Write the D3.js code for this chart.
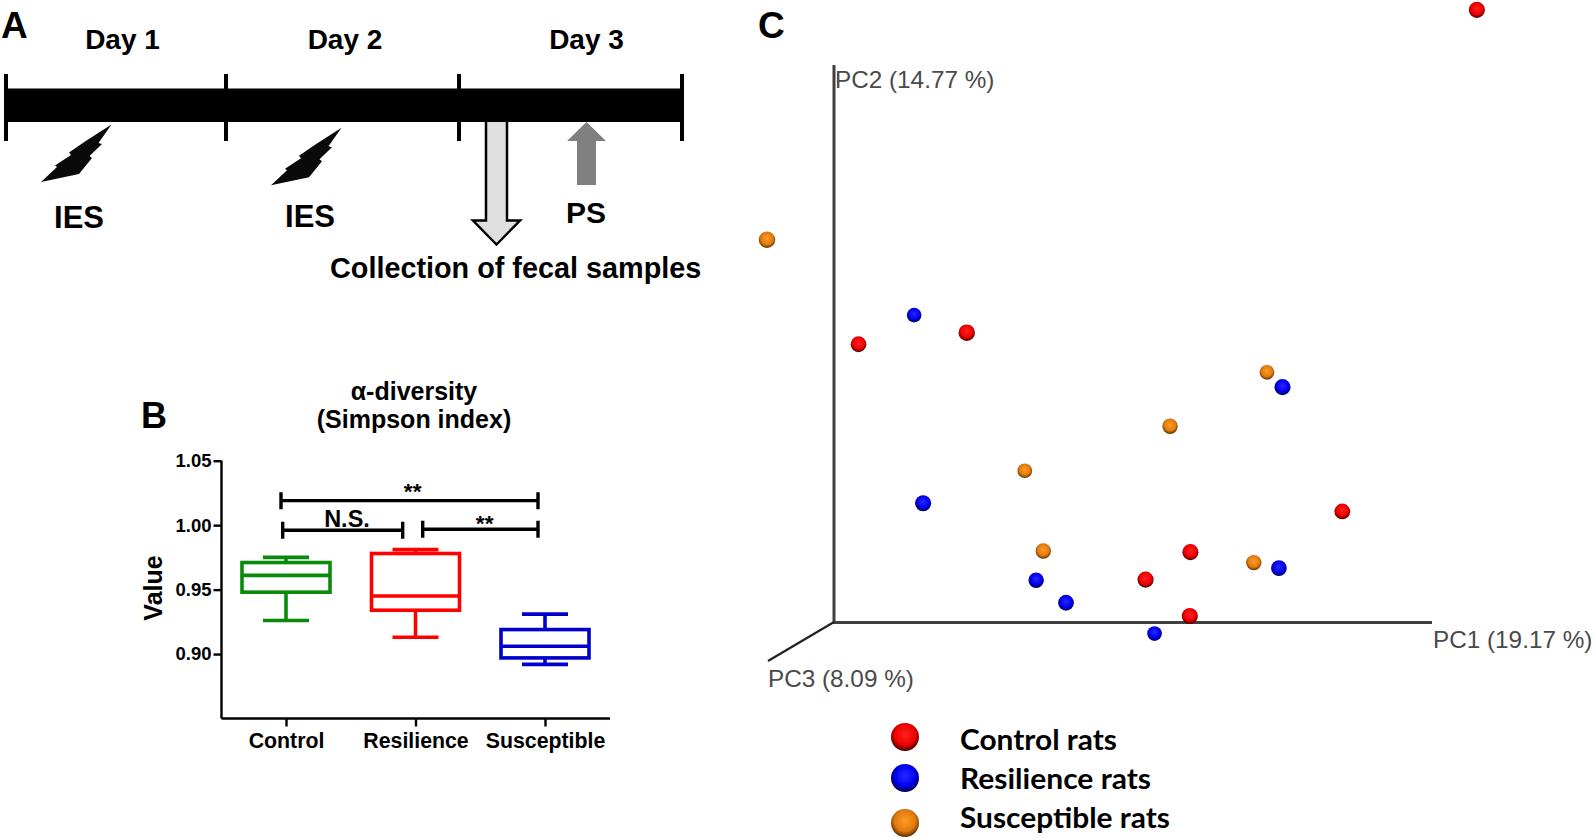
<!DOCTYPE html>
<html><head><meta charset="utf-8">
<style>html,body{margin:0;padding:0;background:#fff}svg{display:block}text{font-family:"Liberation Sans",Arial,sans-serif}</style>
<script src="https://cdn.jsdelivr.net/npm/d3@7/dist/d3.min.js"></script>
</head><body><svg id="c" width="1595" height="840"></svg>
<script>
// Panel A
const dayLabels = ["Day 1","Day 2","Day 3"];
const dayBoundaries = [0,1,2,3];
// Panel B
const groups = ["Control","Resilience","Susceptible"];
const whiskerLow  = [0.926,0.913,0.892];
const q1          = [0.948,0.934,0.897];
const median      = [0.961,0.945,0.906];
const q3          = [0.971,0.978,0.919];
const whiskerHigh = [0.975,0.981,0.931];
const boxColors   = ["#0a8a0a","#ff0000","#0000cc"];
const yTicks      = [0.90,0.95,1.00,1.05];
// Panel C (projected position on the PC1 / PC2 axes, 0-100; depth along PC3, 0-1)
const ctrlPC1 = [107.5,4.1,22.2,85.0,59.6,52.1,59.5];
const ctrlPC2 = [111.3,50.5,52.6,20.1,12.7,7.7,1.1];
const ctrlPC3 = [0.7,0.6,0.8,0.6,0.7,0.7,0.7];
const resPC1  = [13.4,75.0,14.9,74.4,33.8,38.8,53.6];
const resPC2  = [55.8,42.7,21.6,9.8,7.6,3.5,-2.1];
const resPC3  = [0.3,0.7,0.7,0.6,0.5,0.6,0.3];
const susPC1  = [-11.2,72.4,56.2,31.9,35.0,70.2];
const susPC2  = [69.5,45.4,35.6,27.5,12.9,10.8];
const susPC3  = [0.8,0.3,0.5,0.3,0.5,0.5];
const legendLabels = ["Control rats","Resilience rats","Susceptible rats"];
const sphereStops = [["#ff2020","#f00000","#300000"],["#2828ff","#0000ee","#000038"],["#ff9c28","#e27a0e","#4a2a00"]];

const svg = d3.select("#c");
const defs = svg.append("defs");
["red","blue","orange"].forEach((id,i)=>{
  const g = defs.append("radialGradient").attr("id",id).attr("cx","50%").attr("cy","42%").attr("r","60%");
  [[0,0],[.62,1],[1,2]].forEach(([o,k])=>g.append("stop").attr("offset",o).attr("stop-color",sphereStops[i][k]));
});
const txt=(x,y,s,size,o={})=>svg.append("text").attr("x",x).attr("y",y).text(s)
  .attr("font-size",size).attr("font-weight",o.weight||"bold").attr("fill",o.fill||"#000")
  .attr("text-anchor",o.anchor||"start");

// ---------- Panel A
txt(1,38,"A",37);
const tl = d3.scaleLinear().domain([0,3]).range([6,682]);
const tickX = [6,226,459,682];
svg.append("rect").attr("x",tl(0)).attr("y",88.5).attr("width",tl(3)-tl(0)).attr("height",33.5).attr("fill","#000");
svg.selectAll(".dt").data(dayBoundaries).join("line").attr("x1",d=>tickX[d]).attr("x2",d=>tickX[d])
  .attr("y1",74).attr("y2",141).attr("stroke","#000").attr("stroke-width",4);
const dayX=[122.5,345,586.5];
dayLabels.forEach((d,i)=>txt(dayX[i],49,d,28,{anchor:"middle"}));
const bolt=[[111.5,124.5],[98.5,143],[102,144],[89.5,156],[92,158],[79,174],[41,182],[57,167],[55,165.5],[71,155],[69,152.5],[85,141.5]];
const line=d3.line();
[[0,0],[230,3.3]].forEach(([dx,dy])=>svg.append("path")
  .attr("d",line(bolt.map(([x,y])=>[x+dx,y+dy]))+"Z").attr("fill","#0a0a0a"));
txt(79,228,"IES",31,{anchor:"middle"});
txt(310,226.5,"IES",31,{anchor:"middle"});
txt(586,223,"PS",30,{anchor:"middle"});
svg.append("path").attr("d",line([[486,122],[486,220.5],[473,220.5],[496.5,244.5],[520,220.5],[507,220.5],[507,122]]))
  .attr("fill","#e0e0e0").attr("stroke","#000").attr("stroke-width",2.5);
svg.append("path").attr("d",line([[577,185],[577,141],[567,141],[586.5,122],[606,141],[596,141],[596,185]])+"Z").attr("fill","#808080");
txt(330,278,"Collection of fecal samples",28.8);

// ---------- Panel B
txt(141,428,"B",36);
txt(414,400,"α-diversity",25,{anchor:"middle"});
txt(414,428,"(Simpson index)",25,{anchor:"middle"});
const y = d3.scaleLinear().domain([0.85,1.05]).range([718.5,460.7]);
const x = d3.scalePoint().domain(groups).range([286,545]);
const ax = svg.append("g").attr("transform","translate(221.5,0)")
  .call(d3.axisLeft(y).tickValues(yTicks).tickFormat(d3.format(".2f")).tickSize(8).tickPadding(2));
const bx = svg.append("g").attr("transform","translate(0,718.5)")
  .call(d3.axisBottom(x).tickSize(8).tickPadding(6));
bx.select(".domain").attr("d","M221.5,0H610");
ax.select(".domain").attr("d","M0,"+y(1.05)+"V"+y(.85));
[ax,bx].forEach(g=>{g.selectAll("path,line").attr("stroke","#000").attr("stroke-width",2.4);
  g.selectAll("text").attr("font-family","Liberation Sans").attr("font-weight","bold").attr("font-size",18.5).attr("fill","#000");});
bx.selectAll("text").attr("font-size",21.3);
svg.append("text").attr("transform","translate(162,588) rotate(-90)").attr("text-anchor","middle")
  .attr("font-size",25).attr("font-weight","bold").text("Value");
const hw=44, cap=23;
groups.forEach((g,i)=>{
  const gg=svg.append("g").attr("stroke",boxColors[i]).attr("stroke-width",3.6).attr("fill","none");
  const c=x(g);
  gg.append("rect").attr("x",c-hw).attr("width",2*hw).attr("y",y(q3[i])).attr("height",y(q1[i])-y(q3[i]));
  gg.append("line").attr("x1",c-hw).attr("x2",c+hw).attr("y1",y(median[i])).attr("y2",y(median[i]));
  [[q3[i],whiskerHigh[i]],[q1[i],whiskerLow[i]]].forEach(([a,b])=>{
    gg.append("line").attr("x1",c).attr("x2",c).attr("y1",y(a)).attr("y2",y(b));
    gg.append("line").attr("x1",c-cap).attr("x2",c+cap).attr("y1",y(b)).attr("y2",y(b));
  });
});
const brackets=[[281,538,1.019,"**",412.7,499,22.7],[282.7,402.7,0.996,"N.S.",347,526.5,23.5],[422.7,538,0.9968,"**",484.7,531,22.7]];
brackets.forEach(([a,b,v,s,tx,ty,fs])=>{
  const p=y(v);
  svg.append("path").attr("d",`M${a},${p-8.5}V${p+8.5}M${a},${p}H${b}M${b},${p-8.5}V${p+8.5}`)
    .attr("stroke","#000").attr("stroke-width",3.4).attr("fill","none");
  txt(tx,ty,s,fs,{anchor:"middle"});
});

// ---------- Panel C
txt(758,38,"C",37);
const cx=d3.scaleLinear().domain([0,100]).range([834,1432]);
const cy=d3.scaleLinear().domain([0,100]).range([622,72]);
const r=d3.scaleLinear().domain([0,1]).range([6.8,8.6]);
svg.append("path").attr("d",line([[834,65],[834,622.5],[1432,622.5]])).attr("fill","none").attr("stroke","#404040").attr("stroke-width",3);
svg.append("path").attr("d",line([[834,622],[768,661]])).attr("stroke","#222").attr("stroke-width",2.2).attr("fill","none");
const lab={weight:"normal",fill:"#4a4a4a"};
txt(835,88,"PC2 (14.77 %)",24.3,lab);
txt(1433,648,"PC1 (19.17 %)",24.3,lab);
txt(768,687,"PC3 (8.09 %)",24.3,lab);
[[ctrlPC1,ctrlPC2,ctrlPC3,"red"],[resPC1,resPC2,resPC3,"blue"],[susPC1,susPC2,susPC3,"orange"]].forEach(([a,b,c,id])=>{
  svg.append("g").selectAll("circle").data(a).join("circle")
    .attr("cx",d=>cx(d)).attr("cy",(d,i)=>cy(b[i])).attr("r",(d,i)=>r(c[i])).attr("fill",`url(#${id})`);
});
const ly=[737,778,823], lt=[750,789,828], lw=[157,191,210];
legendLabels.forEach((s,i)=>{
  svg.append("circle").attr("cx",905).attr("cy",ly[i]).attr("r",14).attr("fill",`url(#${["red","blue","orange"][i]})`);
  txt(960,lt[i],s,29,{}).style("font-family","Lato")
    .attr("textLength",lw[i]).attr("lengthAdjust","spacingAndGlyphs");
});
</script></body></html>
